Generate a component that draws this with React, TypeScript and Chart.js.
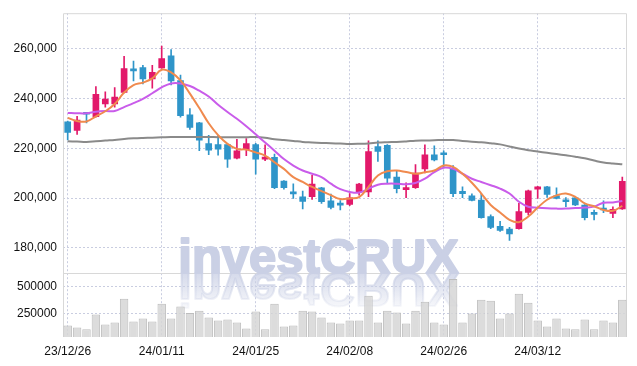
import React, { useEffect, useRef } from 'react';
import { Chart, registerables } from 'chart.js';
Chart.register(...registerables);

const dates = [
  '23/12/26','23/12/27','23/12/28','24/01/02','24/01/03','24/01/04','24/01/05','24/01/08','24/01/09','24/01/10',
  '24/01/11','24/01/12','24/01/15','24/01/16','24/01/17','24/01/18','24/01/19','24/01/22','24/01/23','24/01/24',
  '24/01/25','24/01/26','24/01/29','24/01/30','24/01/31','24/02/01','24/02/02','24/02/05','24/02/06','24/02/07',
  '24/02/08','24/02/13','24/02/14','24/02/15','24/02/16','24/02/19','24/02/20','24/02/21','24/02/22','24/02/23',
  '24/02/26','24/02/27','24/02/28','24/02/29','24/03/04','24/03/05','24/03/06','24/03/07','24/03/08','24/03/11',
  '24/03/12','24/03/13','24/03/14','24/03/15','24/03/18','24/03/19','24/03/20','24/03/21','24/03/22','24/03/25',
];

const opens = [
  230650,227200,233800,232750,237900,237900,242450,251300,252450,247850,
  252350,257200,247200,233450,230250,221950,221550,221550,216100,219450,
  221550,215700,216400,206900,201800,200550,200550,204100,198950,197300,
  197500,202500,202500,220750,221250,208450,203450,204250,211750,217450,
  217550,211750,202750,200950,199250,192600,188650,187600,187750,194300,
  203600,204500,200950,198650,200150,197250,193600,195350,193900,195650,
];
const highs = [
  231000,232900,234500,244800,242700,244400,256950,255100,253400,253400,
  261050,259700,249400,235950,230500,225250,225250,221700,223650,223950,
  222000,221450,217700,207100,205800,202800,209150,204300,201600,199050,
  201850,206000,223000,223000,221500,211100,206200,213500,221450,221050,
  219050,213100,204500,201750,201850,193300,190650,188250,197900,203200,
  204700,204800,204100,200250,200300,197400,195250,198950,196550,208450,
];
const lows = [
  223400,225650,230250,232500,236600,236600,242300,247050,245850,244150,
  252100,245450,232550,227600,219050,217450,217300,212300,215800,217050,
  209650,215100,203850,203600,199850,195650,199500,197900,195650,195250,
  196950,201200,200550,214800,206200,202100,200150,203900,210150,215000,
  212450,200550,200150,198850,192000,187750,186650,183000,187500,193300,
  199900,200250,199700,196550,196950,191300,191300,194200,192200,195500,
];
const closes = [
  226450,231350,233700,241750,239800,240600,252050,251150,247850,250500,
  256050,247050,233150,228400,223250,219300,219700,215700,219050,221950,
  215700,216300,204250,204250,201700,198700,205700,198550,196300,197200,
  200150,205700,218750,218750,208050,203850,204100,210050,217450,215350,
  217450,201850,201850,199050,192200,188250,187050,185600,194600,202900,
  204500,201450,199850,198550,197250,192200,193500,195250,195500,206750,
];
const volumes = [
  141000,123000,105000,241000,150000,168000,386000,178000,205000,178000,
  341000,205000,316000,256000,277000,214000,187000,196000,168000,114000,
  268000,105000,341000,132000,141000,277000,268000,214000,168000,159000,
  187000,187000,413000,168000,277000,259000,159000,277000,359000,168000,
  150000,567000,168000,250000,377000,368000,205000,250000,431000,350000,
  187000,132000,205000,114000,105000,196000,105000,187000,168000,377000,
];
const ma5 = [
  232250,230950,230800,232900,234900,237800,242450,245450,246400,248100,
  251600,250500,247300,242000,236200,230100,225300,221800,219800,219500,
  218400,217100,214400,211750,208450,206500,204500,202800,201200,199650,
  199900,200400,204500,209100,210800,211100,210500,209800,210400,211100,
  213100,212550,209800,206200,201850,197250,194250,191300,190350,192600,
  196200,199350,201100,201850,200550,197900,196750,195250,194900,196900,
];
const ma20 = [
  234250,234100,234100,234750,235000,235000,236600,238200,239900,242150,
  244500,246100,246100,245050,243150,240850,237500,234600,231900,228900,
  225650,222350,219050,215700,213100,211100,209800,208450,205800,203600,
  202500,202250,203850,205400,205800,205800,205600,206100,207800,210450,
  212250,211750,209800,207800,206500,205200,203850,201850,198550,196550,
  196150,195900,195800,195800,196000,196200,196600,198150,198300,198850,
];
const ma60 = [
  222850,222750,222600,222850,223150,223400,223800,224050,224200,224300,
  224450,224600,224600,224600,224600,224600,224500,224500,224450,224450,
  224600,224300,223650,223350,223000,222600,222400,222200,222050,221950,
  221800,221850,222000,222350,222500,222600,222800,223050,223150,223250,
  223400,223350,223000,222700,222450,222050,221600,220750,219950,219250,
  218750,218200,217700,217200,216650,216000,215100,214300,213900,213600,
];
const priceTicks = [180000, 200000, 220000, 240000, 260000];
const volumeTicks = [250000, 500000];
const labelEvery = 10;

const UP = '#E2196A';
const DOWN = '#2F95C9';
const GRID = '#c9cde0';
const FONT = { family: '"Liberation Sans", Arial, sans-serif', size: 12 };

const watermarkPlugin = {
  id: 'watermark',
  beforeDatasetsDraw(chart: any) {
    const { ctx, chartArea, scales } = chart;
    const sep = scales.y.bottom;
    ctx.save();
    ctx.strokeStyle = '#d8d8d8';
    ctx.lineWidth = 1;
    ctx.beginPath();
    ctx.moveTo(chartArea.left + 0.5, chartArea.bottom);
    ctx.lineTo(chartArea.left + 0.5, chartArea.top + 0.5);
    ctx.lineTo(chartArea.right - 0.5, chartArea.top + 0.5);
    ctx.lineTo(chartArea.right - 0.5, chartArea.bottom);
    ctx.moveTo(chartArea.left, Math.round(sep) + 0.5);
    ctx.lineTo(chartArea.right, Math.round(sep) + 0.5);
    ctx.stroke();
    const cx = chart.width / 2;
    const by = sep;
    ctx.font = 'bold 49px "Liberation Sans", Arial, sans-serif';
    ctx.textAlign = 'center';
    ctx.textBaseline = 'alphabetic';
    ctx.lineJoin = 'round';
    ctx.fillStyle = 'rgb(202,208,229)';
    ctx.strokeStyle = 'rgb(202,208,229)';
    ctx.lineWidth = 2;
    ctx.fillText('investCRUX', cx, by);
    ctx.strokeText('investCRUX', cx, by);
    ctx.translate(0, by * 2);
    ctx.scale(1, -1);
    const g = ctx.createLinearGradient(0, by, 0, by - 40);
    g.addColorStop(0, 'rgba(202,208,229,0.8)');
    g.addColorStop(1, 'rgba(202,208,229,0.05)');
    ctx.fillStyle = g;
    ctx.strokeStyle = g;
    ctx.fillText('investCRUX', cx, by);
    ctx.strokeText('investCRUX', cx, by);
    ctx.restore();
  },
};

export default function App() {
  const ref = useRef<HTMLCanvasElement>(null);
  useEffect(() => {
    document.body.style.margin = '0';
    const colors = opens.map((o, i) => (closes[i] >= o ? UP : DOWN));
    const chart = new Chart(ref.current!, {
      type: 'bar',
      data: {
        labels: dates,
        datasets: [
          {
            type: 'line', label: 'MA5', data: ma5, yAxisID: 'y', borderColor: '#F08A4E', borderWidth: 2,
            pointRadius: 0, tension: 0.4, order: 0,
          } as any,
          {
            type: 'line', label: 'MA20', data: ma20, yAxisID: 'y', borderColor: '#C95CEA', borderWidth: 2,
            pointRadius: 0, tension: 0.4, order: 0,
          },
          {
            type: 'line', label: 'MA60', data: ma60, yAxisID: 'y', borderColor: '#8a8a8a', borderWidth: 2,
            pointRadius: 0, tension: 0.4, order: 0,
          },
          {
            label: 'body', data: opens.map((o, i) => [o, closes[i]]), yAxisID: 'y', backgroundColor: colors,
            barThickness: 6, minBarLength: 2, grouped: false, order: 1, borderSkipped: false,
          },
          {
            label: 'wick', data: lows.map((l, i) => [l, highs[i]]), yAxisID: 'y', backgroundColor: colors,
            barThickness: 1, grouped: false, order: 2,
          },
          {
            label: 'volume', data: volumes, yAxisID: 'yVol', backgroundColor: 'rgba(214,214,214,0.85)',
            borderColor: '#bdbdbd', borderWidth: 1, categoryPercentage: 1, barPercentage: 0.9, grouped: false, order: 3,
          },
        ],
      },
      options: {
        responsive: false,
        animation: false,
        devicePixelRatio: 1,
        layout: { padding: { top: 9, right: 10, left: 0, bottom: 0 } },
        plugins: { legend: { display: false }, tooltip: { enabled: false } },
        scales: {
          x: {
            type: 'category',
            offset: true,
            grid: {
              offset: false,
              drawTicks: false,
              color: (c: any) => (c.index % labelEvery === 0 ? GRID : 'transparent'),
            },
            border: { display: false, dash: [2, 2] },
            ticks: {
              autoSkip: false, maxRotation: 0, minRotation: 0, padding: 7, color: '#111', font: FONT,
              callback: (_v: any, i: number) => (i % labelEvery === 0 ? dates[i] : ''),
            },
            afterFit: (s: any) => { s.height = 29; },
          },
          yVol: {
            position: 'left', stack: 'main', stackWeight: 65,
            min: 35000, max: 624000,
            afterBuildTicks: (s: any) => { s.ticks = volumeTicks.map((v) => ({ value: v })); },
            grid: { color: GRID, drawTicks: false },
            border: { display: false, dash: [2, 2] },
            ticks: { padding: 6, color: '#111', font: FONT, callback: (v: any) => String(v) },
            afterFit: (s: any) => { s.width = 63; },
          },
          y: {
            position: 'left', stack: 'main', stackWeight: 263,
            min: 170000, max: 274300,
            afterBuildTicks: (s: any) => { s.ticks = priceTicks.map((v) => ({ value: v })); },
            grid: { color: GRID, drawTicks: false },
            border: { display: false, dash: [2, 2] },
            ticks: { padding: 6, color: '#111', font: FONT, callback: (v: any) => Number(v).toLocaleString('en-US') },
            afterFit: (s: any) => { s.width = 63; },
          },
        },
      } as any,
      plugins: [watermarkPlugin],
    });
    return () => chart.destroy();
  }, []);
  return <canvas ref={ref} width={637} height={366} style={{ display: 'block', width: 637, height: 366 }} />;
}
